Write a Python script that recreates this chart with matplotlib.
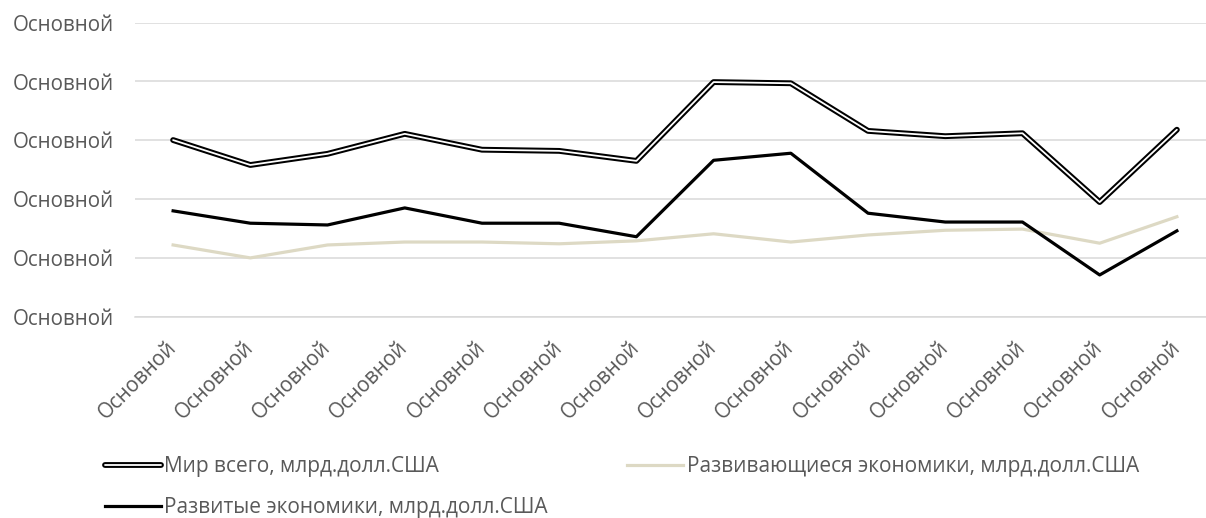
import numpy as np
import matplotlib
matplotlib.use("Agg")
import matplotlib.pyplot as plt
import matplotlib.patheffects as pe

plt.rcParams['font.family'] = ['Open Sans', 'DejaVu Sans']

# data (млрд. долл. США, approximate)
categories = ["Основной"] * 14
world = [1502, 1290, 1385, 1555, 1420, 1410, 1325, 1995, 1985, 1580, 1535, 1560, 975, 1590]
developed = [900, 795, 780, 925, 795, 795, 680, 1330, 1390, 880, 805, 805, 355, 730]
developing = [610, 500, 610, 635, 635, 620, 645, 705, 635, 695, 735, 745, 625, 850]
yticks = [0, 500, 1000, 1500, 2000, 2500]

label_world = "Мир всего, млрд.долл.США"
label_devd = "Развитые экономики, млрд.долл.США"
label_devg = "Развивающиеся экономики, млрд.долл.США"

text_col = "#595959"
grid_col = "#d9d9d9"
tan = "#ddd9c4"
fs = 14.8

W, H = 1206, 518
fig = plt.figure(figsize=(W / 100, H / 100), dpi=100)
# plot area runs a bit past the right edge, as in the source
left, right = 134.5, 1215.5
top, bottom = 22.7, 316.7
ax = fig.add_axes([left / W, 1 - bottom / H, (right - left) / W, (bottom - top) / H])

x = np.arange(len(categories))
# double line: black stroke with a thin white core
l_world, = ax.plot(x, world, color="white", lw=1.3, solid_capstyle="round", zorder=5,
                   path_effects=[pe.Stroke(linewidth=4.2, foreground="black",
                                           capstyle="round"), pe.Normal()])
l_devg, = ax.plot(x, developing, color=tan, lw=2.3, zorder=3)
l_devd, = ax.plot(x, developed, color="black", lw=2.3, zorder=3)

ax.set_xlim(-0.5, len(categories) - 0.5)
ax.set_ylim(0, 2500)
ax.set_yticks(yticks)
ax.set_yticklabels(["Основной"] * len(yticks))
ax.yaxis.grid(True, color=grid_col, lw=1.1)
ax.set_axisbelow(True)
for s in ["top", "right", "left"]:
    ax.spines[s].set_visible(False)
ax.spines["bottom"].set_color(grid_col)
ax.spines["bottom"].set_linewidth(1.1)
ax.tick_params(axis="both", length=0, labelsize=fs, labelcolor=text_col)
ax.tick_params(axis="y", pad=15)
ax.set_xticks(x)
ax.set_xticklabels(categories, rotation=45, ha="right", va="center",
                   rotation_mode="anchor")
ax.tick_params(axis="x", pad=20)

leg = fig.legend([l_world, l_devd, l_devg], [label_world, label_devd, label_devg],
                 ncol=2, loc="upper left", bbox_to_anchor=(105 / W, 1 - 456 / H),
                 frameon=False, fontsize=15, labelcolor=text_col,
                 handlelength=2.7, handletextpad=0.15, columnspacing=3.8,
                 labelspacing=0.98, borderaxespad=0, borderpad=0)

fig.savefig("out.png", dpi=100)
